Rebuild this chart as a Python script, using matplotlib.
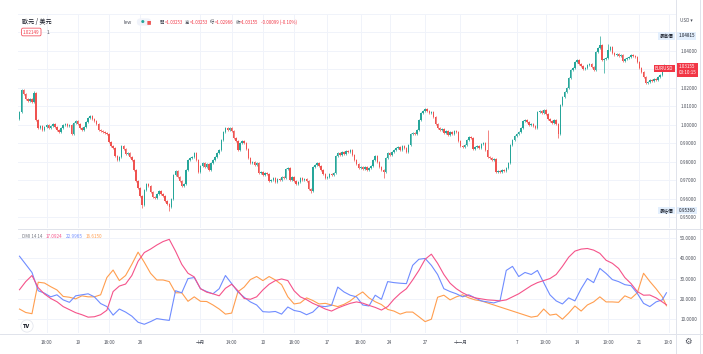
import matplotlib.pyplot as plt
import matplotlib.transforms as mtransforms
from matplotlib.lines import Line2D

plt.rcParams['font.family'] = ['Noto Sans CJK TC', 'DejaVu Sans']

# EURUSD 4h closes (Sep 13 - Nov 22 2022)
closes = [
    1.0070, 1.0189, 1.0168, 1.0141, 1.0130, 1.0141, 1.0124, 1.0173, 1.0027, 0.9984,
    0.9995, 0.9973, 0.9989, 1.0000, 0.9984, 0.9995, 1.0005, 0.9989, 0.9973, 0.9962,
    0.9984, 1.0000, 1.0005, 0.9995, 1.0000, 0.9951, 1.0011, 1.0022, 1.0005, 0.9984,
    0.9973, 0.9989, 1.0016, 1.0038, 1.0049, 1.0032, 1.0022, 1.0005, 0.9973, 0.9968,
    0.9962, 0.9957, 0.9951, 0.9908, 0.9886, 0.9876, 0.9832, 0.9811, 0.9827, 0.9886,
    0.9870, 0.9843, 0.9849, 0.9827, 0.9811, 0.9757, 0.9697, 0.9659, 0.9616, 0.9568,
    0.9649, 0.9681, 0.9670, 0.9638, 0.9611, 0.9605, 0.9627, 0.9643, 0.9627, 0.9616,
    0.9589, 0.9573, 0.9557, 0.9600, 0.9730, 0.9751, 0.9719, 0.9697, 0.9670, 0.9681,
    0.9757, 0.9811, 0.9822, 0.9827, 0.9849, 0.9811, 0.9746, 0.9778, 0.9795, 0.9773,
    0.9789, 0.9757, 0.9795, 0.9811, 0.9827, 0.9849, 0.9865, 0.9919, 0.9962, 0.9984,
    0.9973, 0.9984, 0.9968, 0.9930, 0.9914, 0.9865, 0.9903, 0.9914, 0.9903, 0.9870,
    0.9822, 0.9795, 0.9800, 0.9784, 0.9795, 0.9741, 0.9746, 0.9730, 0.9741, 0.9735,
    0.9697, 0.9703, 0.9714, 0.9692, 0.9708, 0.9703, 0.9719, 0.9714, 0.9762, 0.9768,
    0.9703, 0.9719, 0.9697, 0.9681, 0.9692, 0.9714, 0.9703, 0.9708, 0.9697, 0.9654,
    0.9643, 0.9773, 0.9784, 0.9795, 0.9778, 0.9757, 0.9735, 0.9714, 0.9719, 0.9735,
    0.9730, 0.9741, 0.9832, 0.9849, 0.9838, 0.9854, 0.9843, 0.9859, 0.9854, 0.9865,
    0.9838, 0.9811, 0.9789, 0.9768, 0.9773, 0.9762, 0.9773, 0.9757, 0.9768, 0.9778,
    0.9811, 0.9832, 0.9800, 0.9773, 0.9757, 0.9746, 0.9822, 0.9849, 0.9838, 0.9854,
    0.9865, 0.9876, 0.9881, 0.9865, 0.9886, 0.9876, 0.9854, 0.9892, 0.9951, 0.9957,
    0.9951, 0.9973, 1.0027, 1.0065, 1.0076, 1.0086, 1.0076, 1.0065, 1.0070, 1.0043,
    1.0005, 0.9984, 0.9973, 0.9978, 0.9957, 0.9968, 0.9946, 0.9962, 0.9951, 0.9968,
    0.9962, 0.9914, 0.9886, 0.9881, 0.9892, 0.9919, 0.9935, 0.9930, 0.9870, 0.9881,
    0.9886, 0.9876, 0.9897, 0.9903, 0.9865, 0.9827, 0.9822, 0.9811, 0.9816, 0.9746,
    0.9751, 0.9746, 0.9757, 0.9751, 0.9768, 0.9795, 0.9892, 0.9919, 0.9941, 0.9951,
    0.9962, 0.9984, 1.0022, 1.0027, 1.0016, 1.0000, 1.0005, 0.9995, 0.9984, 1.0070,
    1.0076, 1.0065, 1.0081, 1.0059, 1.0032, 1.0022, 1.0011, 1.0027, 1.0005, 0.9951,
    1.0108, 1.0151, 1.0178, 1.0200, 1.0254, 1.0297, 1.0308, 1.0341, 1.0351, 1.0330,
    1.0319, 1.0303, 1.0308, 1.0324, 1.0330, 1.0314, 1.0297, 1.0395, 1.0416, 1.0432,
    1.0351, 1.0357, 1.0362, 1.0405, 1.0422, 1.0389, 1.0378, 1.0384, 1.0373, 1.0378,
    1.0346, 1.0357, 1.0362, 1.0368, 1.0378, 1.0373, 1.0368, 1.0341, 1.0308, 1.0286,
    1.0259, 1.0227, 1.0232, 1.0243, 1.0238, 1.0249, 1.0243, 1.0259, 1.0270, 1.0297,
    1.03253, 1.03155,
]
first_open = 1.0035
# bars whose wick reaches far out of the body
high_marks = {1: 1.0196, 7: 1.0183, 225: 0.9972, 260: 1.0116, 279: 1.04815, 283: 1.0436, 311: 1.03253}
low_marks = {59: 0.9552, 72: 0.95360, 140: 0.9632, 175: 0.9714, 259: 0.9932, 281: 1.0281, 311: 1.02966}

# DMI 14 14, sampled every 3 bars
dmi_bars = list(range(0, 310, 3)) + [311]
adx = [
    24.5, 28.5, 31.5, 25.5, 22.4, 20.2, 18.6, 16.2, 14.7, 13.2,
    12.2, 11.0, 11.2, 12.2, 14.4, 23.6, 26.3, 27.3, 31.5, 38.5,
    42.8, 44.5, 46.5, 48.2, 49.3, 43.5, 37.0, 32.6, 30.8, 25.0,
    23.3, 22.5, 21.5, 25.2, 27.2, 24.0, 20.2, 19.8, 21.0, 24.4,
    27.2, 29.0, 29.8, 29.0, 24.0, 21.0, 19.6, 17.8, 16.5, 15.0,
    14.0, 15.5, 16.7, 17.8, 18.5, 17.9, 16.8, 15.8, 14.5, 16.2,
    19.8, 22.7, 25.0, 29.3, 34.0, 39.5, 42.0, 37.5, 32.0, 27.7,
    25.0, 23.0, 21.5, 20.5, 20.0, 19.5, 19.3, 19.0, 19.5, 21.0,
    22.5, 24.5, 26.5, 28.0, 29.0, 30.0, 32.0, 36.0, 40.5, 43.5,
    44.5, 44.8, 44.0, 42.4, 39.0, 37.5, 35.0, 30.5, 27.5, 23.6,
    21.8, 21.9, 20.5, 18.5, 17.0924,
]
plus_di = [
    41.0, 37.0, 33.0, 24.0, 22.8, 21.0, 22.0, 19.5, 18.3, 21.5,
    22.0, 22.5, 21.0, 17.7, 16.2, 12.0, 15.0, 13.5, 11.5, 8.5,
    7.5, 8.8, 10.3, 9.8, 9.4, 24.0, 23.0, 30.0, 30.5, 25.0,
    23.6, 22.5, 25.0, 31.5, 27.5, 23.4, 20.8, 18.5, 17.0, 13.7,
    13.5, 13.8, 12.5, 16.0, 14.3, 13.7, 12.2, 13.5, 16.5, 16.2,
    16.8, 25.8, 23.4, 21.8, 21.0, 17.0, 16.5, 21.8, 19.8, 28.5,
    28.0, 27.7, 27.5, 36.5, 39.5, 39.9, 36.5, 32.0, 25.0, 23.6,
    22.5, 21.0, 22.0, 20.5, 19.0, 18.5, 18.0, 19.0, 34.0, 36.0,
    31.0, 33.0, 32.0, 34.0, 28.0, 22.0, 19.0, 17.5, 20.5, 19.0,
    25.0, 30.0, 28.0, 35.0, 32.5, 29.5, 28.5, 27.0, 26.5, 22.7,
    17.8, 16.2, 18.5, 19.5, 22.9965,
]
minus_di = [
    15.0, 13.3, 12.7, 28.2, 27.8, 26.0, 24.4, 21.2, 20.8, 20.0,
    21.5, 21.0, 21.0, 22.0, 30.5, 34.2, 29.0, 31.5, 37.0, 43.0,
    38.0, 32.6, 29.3, 29.3, 28.5, 23.0, 23.0, 18.8, 21.0, 18.8,
    18.7, 17.0, 15.0, 12.5, 13.0, 23.5, 25.8, 29.5, 31.0, 29.0,
    31.0, 29.3, 27.0, 21.0, 17.5, 18.0, 20.5, 19.2, 17.5, 17.8,
    17.0, 16.2, 17.3, 19.0, 21.5, 23.4, 20.5, 18.6, 17.2, 14.8,
    14.0, 12.5, 13.5, 13.5, 11.2, 8.8, 10.0, 20.8, 21.8, 19.5,
    21.0, 22.0, 20.5, 19.5, 19.0, 18.0, 17.0, 16.0, 15.0, 14.0,
    13.0, 12.0, 11.0, 11.5, 15.0, 12.0, 12.5, 10.0, 13.0, 16.5,
    14.0, 17.0, 18.5, 21.0, 18.5, 18.5, 18.3, 21.5, 20.2, 23.0,
    32.6, 28.6, 25.0, 21.0, 16.6150,
]

tick_bars = [13, 28, 43, 58, 87, 102, 117, 132, 148, 164, 178, 195, 212, 239, 253, 268, 283, 298, 312]
tick_labels = ['18:00', '19', '18:00', '26', '十月', '14:00', '10', '18:00', '17', '18:00',
               '24', '27', '十一月', '7', '19:00', '14', '19:00', '21', '19:0']
price_ticks = [0.95, 0.96, 0.97, 0.98, 0.99, 1.00, 1.01, 1.02, 1.03, 1.04, 1.05, 1.06]
hidden_price_labels = [1.03, 1.05, 1.06]   # covered by the value boxes / off the top
dmi_ticks = [10, 20, 30, 40, 50]

UP, DOWN = '#26a69a', '#ef5350'
GRID = '#f0f3fa'
TXT = '#4a4e59'
W, H = 703, 354

fig = plt.figure(figsize=(W / 100, H / 100), dpi=100)
ax = fig.add_axes([18 / W, 1 - 228 / H, 658 / W, 214 / H])
ax2 = fig.add_axes([18 / W, 1 - 333 / H, 658 / W, 103 / H])

# candles
opens = [first_open] + closes[:-1]
n = len(closes)
idx = list(range(n))
highs = [max(o, c) + 0.0007 for o, c in zip(opens, closes)]
lows = [min(o, c) - 0.0007 for o, c in zip(opens, closes)]
for i, v in high_marks.items():
    highs[i] = v
for i, v in low_marks.items():
    lows[i] = v
cols = [UP if c >= o else DOWN for o, c in zip(opens, closes)]
ax.vlines(idx, lows, highs, colors=cols, lw=0.5, zorder=3)
ax.bar(idx, [max(abs(c - o), 0.0003) for o, c in zip(opens, closes)],
       bottom=[min(o, c) for o, c in zip(opens, closes)], width=0.7, color=cols,
       linewidth=0, zorder=4)

# DMI
ax2.plot(dmi_bars, minus_di, color='#ff9e4f', lw=0.8, zorder=3)
ax2.plot(dmi_bars, plus_di, color='#6f8cff', lw=0.8, zorder=3)
ax2.plot(dmi_bars, adx, color='#f5538a', lw=0.8, zorder=4)

for a in (ax, ax2):
    a.set_xlim(-0.72, 315.6)
    a.set_xticks(tick_bars)
    a.grid(True, color=GRID, lw=0.7)
    a.set_axisbelow(True)
    for s in a.spines.values():
        s.set_visible(False)
    a.yaxis.tick_right()
    a.tick_params(length=0, labelsize=3.3, labelcolor=TXT, pad=3)

ax.set_ylim(0.94432, 1.0600)
ax.set_yticks(price_ticks)
ax.set_yticklabels(['' if p in hidden_price_labels else '%.5f' % p for p in price_ticks])
ax.tick_params(axis='x', labelbottom=False)

ax2.set_ylim(3.2, 53.9)
ax2.set_yticks(dmi_ticks)
ax2.set_yticklabels(['%.4f' % v for v in dmi_ticks])
ax2.set_xticklabels(tick_labels)
ax2.tick_params(axis='x', pad=5)

# panel separators
for seg in [([18, 703], [228.5, 228.5]), ([0, 703], [333.5, 333.5]), ([676, 676], [0, 354]),
            ([700, 700], [0, 354])]:
    fig.add_artist(Line2D([x / W for x in seg[0]], [1 - y / H for y in seg[1]],
                          color='#e0e3eb', lw=0.7))

# right axis labels
tr = mtransforms.blended_transform_factory(ax.transAxes, ax.transData)
box = dict(boxstyle='square,pad=0.25', ec='none')
ax.text(1.004, 1.04815, '1.04815', transform=tr, fontsize=3.3, va='center', color='#131722',
        bbox=dict(box, fc='#e3effd'), zorder=10, clip_on=False)
ax.text(0.996, 1.04815, '最高價', transform=tr, fontsize=3.3, va='center', ha='right',
        color='#131722', bbox=dict(box, fc='#e3effd'), zorder=10, clip_on=False)
ax.text(1.004, 0.95360, '0.95360', transform=tr, fontsize=3.3, va='center', color='#131722',
        bbox=dict(box, fc='#e3effd'), zorder=10, clip_on=False)
ax.text(0.996, 0.95360, '最低價', transform=tr, fontsize=3.3, va='center', ha='right',
        color='#131722', bbox=dict(box, fc='#e3effd'), zorder=10, clip_on=False)
ax.text(1.004, 1.0298, '1.03155\n03:10:15', transform=tr, fontsize=3.3, va='center',
        color='white', linespacing=1.3, bbox=dict(box, fc='#f23645'), zorder=10, clip_on=False)
ax.text(0.996, 1.0304, 'EURUSD', transform=tr, fontsize=3.3, va='center', ha='right',
        color='white', bbox=dict(box, fc='#f23645'), zorder=10, clip_on=False)

fig.text(680 / W, 1 - 20 / H, 'USD ▾', fontsize=3.3, color=TXT, va='center')
fig.text(688 / W, 1 - 341 / H, '⚙', fontsize=6, color=TXT, va='center', ha='center',
         family='DejaVu Sans')

# header legend
fig.canvas.draw()
rend = fig.canvas.get_renderer()


def row(x, y, parts, size):
    for s, c, gap in parts:
        t = fig.text(x / W, 1 - y / H, s, color=c, fontsize=size, va='center', ha='left')
        x += t.get_window_extent(renderer=rend).width + gap
    return x


fig.text(22 / W, 1 - 22 / H, '歐元 / 美元', fontsize=4.4, color='#131722', va='center')
fig.text(23 / W, 1 - 32 / H, '1.02149', fontsize=3.3, color='#f23645', va='center',
         bbox=dict(boxstyle='round,pad=0.3,rounding_size=0.3', fc='white', ec='#f23645', lw=0.5))
fig.text(47 / W, 1 - 32 / H, '1.', fontsize=3.3, color=TXT, va='center')
fig.text(123 / W, 1 - 22 / H, 'lew', fontsize=3.6, color=TXT, va='center')
fig.text(138 / W, 1 - 22 / H, '            ', fontsize=3.3, va='center',
         bbox=dict(boxstyle='round,pad=0.25,rounding_size=0.8', fc='#f0f3fa', ec='none'))
fig.text(143 / W, 1 - 22 / H, '●', fontsize=3.0, color=UP, va='center', ha='center',
         family='DejaVu Sans')
fig.text(149 / W, 1 - 22 / H, '■', fontsize=3.3, color=DOWN, va='center', ha='center',
         family='DejaVu Sans')
red = '#f23645'
row(160, 22, [('開', TXT, 0), ('=1.03253', red, 2.5), ('高', TXT, 0), ('=1.03253', red, 2.5),
              ('低', TXT, 0), ('=1.02966', red, 2.5), ('收', TXT, 0), ('=1.03155', red, 2.5),
              ('-0.00099 (-0.10%)', red, 0)], 3.2)
row(22, 236, [('DMI 14 14', '#787b86', 3.5), ('17.0924', '#f5538a', 3),
              ('22.9965', '#6f8cff', 3), ('16.6150', '#ff9e4f', 0)], 3.3)

# logo
fig.text(27 / W, 1 - 326 / H, 'TV', fontsize=3.6, fontweight='bold', color='#131722',
         va='center', ha='center', family='DejaVu Sans',
         bbox=dict(boxstyle='circle,pad=0.5', fc='white', ec='#e0e3eb', lw=0.5))

fig.savefig('out.png', dpi=100)
